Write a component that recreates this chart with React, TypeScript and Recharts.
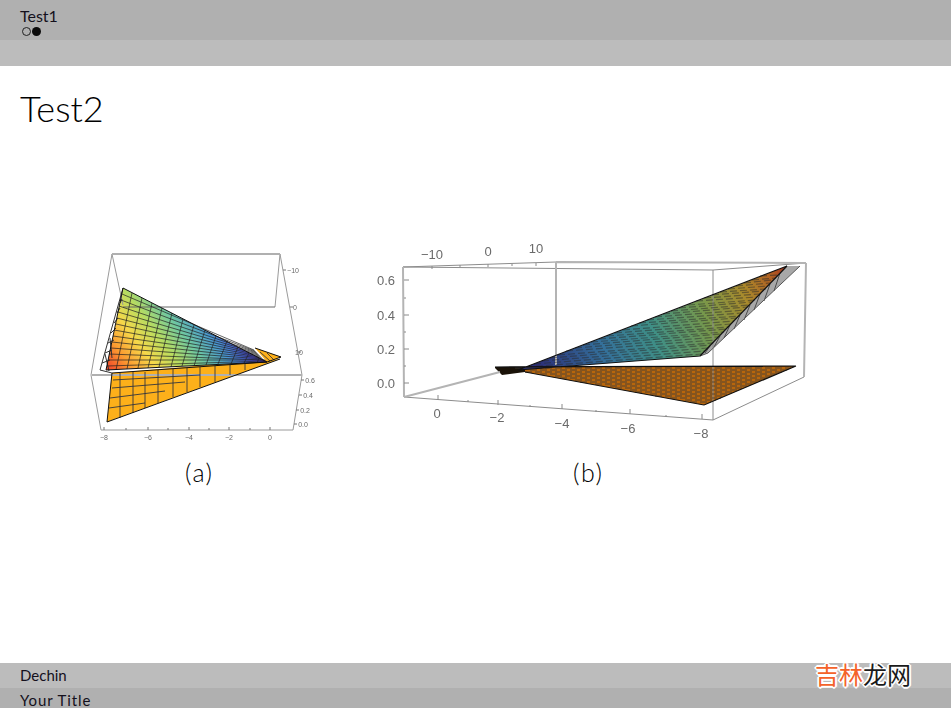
/**
 * Beamer slide with two 3D surface plots, flattened into 2D projected values.
 * Each panel is a ComposedChart whose hidden axes run in projected plot units.
 */
import { Area, ComposedChart, Line, XAxis, YAxis } from "recharts";

type Seg = [number, number, number, number];
type Band = { x: number; band: [number, number] };
type Tick = { x: number; y: number; label: string };

// --- panel (a) ---
const aBoxThick: Seg[] = [
  [32, 14, 200, 14],
  [12, 135, 222, 135],
];
const aBoxThin: Seg[] = [
  [32, 14, 11, 135],
  [32, 14, 43, 65],
  [200, 14, 195, 67],
  [200, 14, 222, 135],
  [11, 135, 21, 190],
  [21, 190, 213, 190],
  [213, 190, 222, 135],
];
const aBackEdge: Seg[] = [[43, 67, 195, 67]];
const aTicks: Seg[] = [
  [24, 190, 24, 187], [46, 190, 46, 188], [68, 190, 68, 187], [88, 190, 88, 188],
  [109, 190, 109, 187], [129, 190, 129, 188], [149, 190, 149, 187], [170, 190, 170, 188],
  [190, 190, 190, 187],
  [221, 140, 224, 140], [219, 155, 222, 155], [216, 170, 219, 170], [214, 184, 217, 184],
  [203, 30, 206, 30], [210, 67, 213, 67], [218, 112, 221, 112],
];
const aUpperBand: Band[] = [
  { x: 26, band: [130, 130] },
  { x: 43, band: [48, 129] },
  { x: 187, band: [122, 122] },
];
const aLowerBand: Band[] = [
  { x: 27, band: [182, 182] },
  { x: 32, band: [133, 180] },
  { x: 200, band: [119, 119] },
];
const aTipBand: Band[] = [
  { x: 175, band: [108, 108] },
  { x: 187, band: [112, 122] },
  { x: 201, band: [117, 117] },
];
const aMesh: Seg[] = [
  [43, 48, 20, 130], [20, 130, 32, 133],
  [22, 123, 30, 120], [25, 113, 32, 110], [28, 103, 34, 100],
  [31, 93, 36, 88], [34, 83, 38, 78], [37, 73, 40, 68], [40, 63, 42, 59],
  [25, 114, 29, 131], [30, 98, 32, 118],
];
const aUpperGrid: Seg[] = [
  [42, 54, 174, 110], [41, 60, 175, 111], [39, 66, 176, 112], [38, 72, 177, 113],
  [37, 78, 178, 114], [36, 84, 179, 115], [34, 90, 180, 116], [33, 96, 181, 117],
  [32, 102, 182, 118], [31, 108, 183, 119], [29, 114, 184, 120], [28, 120, 185, 120],
  [27, 126, 186, 121],
  [52, 53, 36, 130], [62, 58, 47, 129], [72, 63, 58, 128], [82, 68, 68, 128],
  [92, 73, 79, 127], [103, 79, 91, 127], [114, 85, 102, 126], [125, 90, 114, 126],
  [136, 96, 126, 125], [147, 101, 138, 124], [158, 107, 151, 124], [169, 113, 164, 123],
  [179, 118, 177, 123],
];
const aLowerGrid: Seg[] = [
  [33, 140, 120, 135], [32, 148, 105, 142], [30, 158, 85, 151], [29, 168, 65, 163],
  [40, 133, 40, 178], [53, 132, 53, 173], [65, 132, 65, 168], [78, 130, 78, 163],
  [93, 129, 93, 157], [107, 128, 107, 152], [120, 127, 120, 147], [135, 126, 135, 142],
  [150, 125, 150, 135], [165, 124, 165, 130],
  [180, 112, 190, 121], [187, 113, 194, 120],
];
const aOutline: Seg[] = [
  [43, 48, 187, 122], [43, 48, 26, 130], [26, 130, 187, 122],
  [27, 182, 32, 133], [27, 182, 200, 119], [32, 133, 187, 122],
  [175, 108, 201, 117], [201, 117, 187, 122],
];
const aLabels: Tick[] = [
  { x: 24, y: 197, label: "−8" }, { x: 68, y: 197, label: "−6" }, { x: 109, y: 197, label: "−4" },
  { x: 149, y: 197, label: "−2" }, { x: 190, y: 197, label: "0" },
  { x: 230, y: 140, label: "0.6" }, { x: 228, y: 155, label: "0.4" },
  { x: 225, y: 170, label: "0.2" }, { x: 223, y: 184, label: "0.0" },
  { x: 213, y: 30, label: "−10" }, { x: 215, y: 67, label: "0" }, { x: 219, y: 112, label: "10" },
];

// --- panel (b) ---
const bBoxThick: Seg[] = [
  [13, 32, 14, 162],
  [166, 27, 166, 130],
  [416, 28, 414, 142],
  [14, 162, 110, 137],
  [166, 27, 416, 28],
];
const bBoxThin: Seg[] = [
  [13, 32, 166, 27],
  [13, 32, 323, 35],
  [323, 35, 416, 28],
  [323, 35, 323, 185],
  [14, 162, 323, 185],
  [414, 142, 323, 185],
];
const bTicks: Seg[] = [
  [14, 45, 19, 45], [14, 63, 16, 63], [14, 80, 19, 80], [14, 97, 16, 97],
  [14, 114, 19, 114], [14, 131, 16, 131], [14, 148, 19, 148],
  [48, 165, 48, 160], [78, 167, 78, 165], [108, 170, 108, 165], [140, 172, 140, 170],
  [172, 174, 172, 169], [206, 177, 206, 175], [240, 179, 240, 174], [276, 182, 276, 180],
  [312, 184, 312, 179],
  [42, 31, 42, 34], [70, 30, 70, 32], [98, 29, 98, 32], [122, 29, 122, 31], [146, 28, 146, 31],
];
const bUpperBand: Band[] = [
  { x: 128, band: [135, 135] },
  { x: 310, band: [65, 121] },
  { x: 397, band: [31, 31] },
];
const bStripBand: Band[] = [
  { x: 310, band: [121, 121] },
  { x: 318, band: [113, 118] },
  { x: 397, band: [31, 43] },
  { x: 410, band: [31, 31] },
];
const bLowerBand: Band[] = [
  { x: 135, band: [132, 137] },
  { x: 314, band: [131, 170] },
  { x: 406, band: [131, 131] },
];
const bWedgeBand: Band[] = [
  { x: 105, band: [132, 133] },
  { x: 112, band: [132, 140] },
  { x: 135, band: [132, 137] },
];
const bUpperRows: Seg[] = [
  [136, 132, 312, 119], [144, 129, 315, 116], [152, 126, 318, 113], [160, 123, 320, 110],
  [168, 120, 323, 108], [176, 116, 326, 105], [185, 113, 328, 102], [193, 110, 331, 99],
  [201, 107, 334, 97], [209, 104, 336, 94], [217, 101, 339, 92], [225, 98, 341, 89],
  [233, 95, 344, 86], [241, 91, 347, 83], [249, 88, 350, 81], [257, 85, 352, 78],
  [265, 82, 355, 75], [273, 79, 357, 72], [281, 76, 360, 70], [289, 73, 362, 67],
  [298, 70, 365, 65], [306, 66, 367, 62], [314, 63, 370, 59], [322, 60, 373, 56],
  [330, 57, 376, 54], [338, 54, 378, 51], [346, 51, 380, 48], [354, 48, 383, 45],
  [362, 45, 386, 43], [370, 41, 388, 40],
];
// row starts alternate by half a dash so the hatch reads as brickwork
const bLowerRows: Seg[] = [
  [125, 133, 401, 133], [140, 135, 397, 135], [135, 137, 392, 137], [150, 139, 387, 139],
  [165, 141, 383, 141], [170, 143, 378, 143], [185, 145, 373, 145], [190, 147, 368, 147],
  [205, 149, 364, 149], [220, 151, 359, 151], [225, 153, 354, 153], [240, 155, 349, 155],
  [245, 157, 345, 157], [260, 159, 340, 159], [265, 161, 335, 161], [280, 163, 331, 163],
  [295, 165, 326, 165], [300, 167, 321, 167],
];
const bStripRows: Seg[] = [
  [320, 111, 315, 118], [330, 101, 324, 112], [340, 90, 334, 103], [350, 80, 344, 94],
  [360, 70, 354, 85], [370, 59, 364, 75], [380, 49, 374, 66], [390, 38, 384, 56],
];
const bOutline: Seg[] = [
  [128, 135, 310, 121], [310, 121, 397, 31], [128, 135, 397, 31],
  [105, 132, 406, 131], [406, 131, 314, 170], [314, 170, 135, 137],
];
const bStripEdge: Seg[] = [
  [310, 121, 318, 118], [318, 118, 410, 31],
];
const bLabels: Tick[] = [
  { x: -4, y: 45, label: "0.6" }, { x: -4, y: 80, label: "0.4" },
  { x: -4, y: 114, label: "0.2" }, { x: -4, y: 148, label: "0.0" },
  { x: 47, y: 178, label: "0" }, { x: 107, y: 182, label: "−2" }, { x: 172, y: 188, label: "−4" },
  { x: 238, y: 193, label: "−6" }, { x: 311, y: 198, label: "−8" },
  { x: 42, y: 19, label: "−10" }, { x: 98, y: 16, label: "0" }, { x: 146, y: 13, label: "10" },
];

const aStops: [string, string][] = [
  ["0", "#f0402a"], ["0.15", "#fc9a30"], ["0.3", "#f6d84a"], ["0.45", "#b8dc60"],
  ["0.6", "#70c8a0"], ["0.75", "#4a9ad0"], ["0.9", "#4a50e0"], ["1", "#5a30c8"],
];
const bStops: [string, string][] = [
  ["0", "#2b2f78"], ["0.25", "#34709a"], ["0.45", "#3f8f86"], ["0.65", "#76984c"],
  ["0.82", "#a98a2c"], ["0.94", "#b05e22"], ["1", "#a8341e"],
];

const FONT = "'Liberation Sans', Arial, sans-serif";
const SLIDE_FONT = "Lato, 'Noto Sans', sans-serif";

// breaks between segments are null y values, the line stops there
const toPath = (segs: Seg[]) =>
  segs.flatMap(([x1, y1, x2, y2]) => [
    { x: x1, y: y1 },
    { x: x2, y: y2 },
    { x: x2 + 0.01, y: null },
  ]);

const segLine = (key: string, segs: Seg[], stroke: string, width = 1, dash?: string, opacity = 1) => (
  <Line
    key={key}
    data={toPath(segs)}
    dataKey="y"
    type="linear"
    stroke={stroke}
    strokeWidth={width}
    strokeDasharray={dash}
    strokeOpacity={opacity}
    dot={false}
    activeDot={false}
    connectNulls={false}
    isAnimationActive={false}
    legendType="none"
  />
);

const band = (key: string, data: Band[], fill: string) => (
  <Area
    key={key}
    data={data}
    dataKey="band"
    type="linear"
    fill={fill}
    fillOpacity={1}
    stroke="none"
    dot={false}
    activeDot={false}
    isAnimationActive={false}
    legendType="none"
  />
);

const labels = (key: string, data: Tick[], size: number) => (
  <Line
    key={key}
    data={data}
    dataKey="y"
    stroke="none"
    activeDot={false}
    isAnimationActive={false}
    legendType="none"
    dot={(p: any) => (
      <text
        key={p.index}
        x={p.cx}
        y={p.cy}
        textAnchor="middle"
        dominantBaseline="central"
        fontSize={size}
        fontFamily={FONT}
        fill="#6a6a6a"
      >
        {p.payload.label}
      </text>
    )}
  />
);

function Axes({ xMin, xMax, yMax }: { xMin: number; xMax: number; yMax: number }) {
  return (
    <>
      <XAxis dataKey="x" type="number" domain={[xMin, xMax]} allowDataOverflow hide />
      <YAxis type="number" domain={[0, yMax]} reversed allowDataOverflow hide />
    </>
  );
}

function PanelA() {
  return (
    <ComposedChart width={240} height={210} margin={{ top: 0, right: 0, bottom: 0, left: 0 }} data={aUpperBand}>
      <defs>
        <linearGradient id="aSurface" gradientUnits="userSpaceOnUse" x1={27} y1={130} x2={136} y2={48}>
          {aStops.map(([o, c]) => (
            <stop key={o} offset={o} stopColor={c} />
          ))}
        </linearGradient>
      </defs>
      {Axes({ xMin: 0, xMax: 240, yMax: 210 })}
      {segLine("box", aBoxThin, "#9a9a9a", 1)}
      {segLine("boxThick", aBoxThick, "#b0b0b0", 2)}
      {segLine("back", aBackEdge, "#666666", 1)}
      {segLine("ticks", aTicks, "#777777", 1)}
      {segLine("mesh", aMesh, "#333333", 1)}
      {band("lower", aLowerBand, "#fdb01a")}
      {band("tip", aTipBand, "#fdb01a")}
      {segLine("lowerGrid", aLowerGrid, "#2a3040", 1, undefined, 0.85)}
      {band("upper", aUpperBand, "url(#aSurface)")}
      {segLine("upperGrid", aUpperGrid, "#222222", 1, undefined, 0.7)}
      {segLine("outline", aOutline, "#111111", 1)}
      {labels("labels", aLabels, 7)}
    </ComposedChart>
  );
}

function PanelB() {
  return (
    <ComposedChart width={450} height={215} margin={{ top: 0, right: 0, bottom: 0, left: 0 }} data={bUpperBand}>
      <defs>
        {/* userSpace is chart pixels, which sit 20 right of the plot units here */}
        <linearGradient id="bSurface" gradientUnits="userSpaceOnUse" x1={165} y1={120} x2={417} y2={35}>
          {bStops.map(([o, c]) => (
            <stop key={o} offset={o} stopColor={c} />
          ))}
        </linearGradient>
      </defs>
      {Axes({ xMin: -20, xMax: 430, yMax: 215 })}
      {segLine("box", bBoxThin, "#8c8c8c", 1)}
      {segLine("boxThick", bBoxThick, "#b4b4b4", 2)}
      {segLine("ticks", bTicks, "#8a8a8a", 1)}
      {band("strip", bStripBand, "#a8a8a8")}
      {segLine("stripRows", bStripRows, "#333333", 1, undefined, 0.8)}
      {segLine("stripEdge", bStripEdge, "#555555", 1)}
      {band("wedge", bWedgeBand, "#1a1208")}
      {band("lower", bLowerBand, "#b8660c")}
      {segLine("lowerRows", bLowerRows, "#3a3a3a", 1.2, "7 3", 0.8)}
      {band("upper", bUpperBand, "url(#bSurface)")}
      {segLine("upperRows", bUpperRows, "#2a2a2a", 1.2, "7 3", 0.5)}
      {segLine("outline", bOutline, "#111111", 1.2)}
      {labels("labels", bLabels, 13)}
    </ComposedChart>
  );
}

const abs = (left: number, top: number, extra: React.CSSProperties = {}): React.CSSProperties => ({
  position: "absolute",
  left,
  top,
  whiteSpace: "nowrap",
  ...extra,
});

const WATERMARK_EDGE =
  "1px 1px 0 #fff, -1px -1px 0 #fff, 1px -1px 0 #fff, -1px 1px 0 #fff, 2px 0 0 #fff, -2px 0 0 #fff, 0 2px 0 #fff, 0 -2px 0 #fff";

export default function App() {
  return (
    <div
      style={{
        position: "absolute",
        left: 0,
        top: 0,
        width: 951,
        height: 708,
        overflow: "hidden",
        background: "#fff",
        color: "#14101c",
        fontFamily: SLIDE_FONT,
      }}
    >
      <div style={abs(0, 0, { width: 951, height: 40, background: "#b0b0b0" })} />
      <div style={abs(0, 40, { width: 951, height: 26, background: "#bcbcbc" })} />
      <div style={abs(0, 663, { width: 951, height: 25, background: "#bcbcbc" })} />
      <div style={abs(0, 688, { width: 951, height: 20, background: "#b0b0b0" })} />

      <div style={abs(20, 7, { fontSize: 16, lineHeight: "18px" })}>Test1</div>
      <div style={abs(22, 27, { width: 7, height: 7, borderRadius: "50%", border: "1px solid #222" })} />
      <div style={abs(32, 27, { width: 9, height: 9, borderRadius: "50%", background: "#0a0a0a" })} />
      <div style={abs(20, 86, { fontSize: 36, lineHeight: "44px", fontWeight: 300, color: "#000" })}>Test2</div>

      <div style={abs(80, 240, { filter: "blur(0.4px)" })}>
        <PanelA />
      </div>
      <div style={abs(370, 235, { filter: "blur(0.4px)" })}>
        <PanelB />
      </div>

      <div style={abs(185, 457, { fontSize: 25, lineHeight: "30px", fontWeight: 300, letterSpacing: 1.5, color: "#000" })}>(a)</div>
      <div style={abs(573, 457, { fontSize: 25, lineHeight: "30px", fontWeight: 300, letterSpacing: 1.5, color: "#000" })}>(b)</div>

      <div style={abs(20, 666, { fontSize: 15, lineHeight: "19px" })}>Dechin</div>
      <div style={abs(20, 691, { fontSize: 15, lineHeight: "19px", letterSpacing: 0.9 })}>Your Title</div>

      <div
        style={abs(815, 659, {
          fontFamily: "'Noto Sans CJK SC', sans-serif",
          fontSize: 24,
          lineHeight: "30px",
          textShadow: WATERMARK_EDGE,
        })}
      >
        <span style={{ color: "#f4622a" }}>吉林</span>
        <span style={{ color: "#1a1a1a" }}>龙网</span>
      </div>
    </div>
  );
}
